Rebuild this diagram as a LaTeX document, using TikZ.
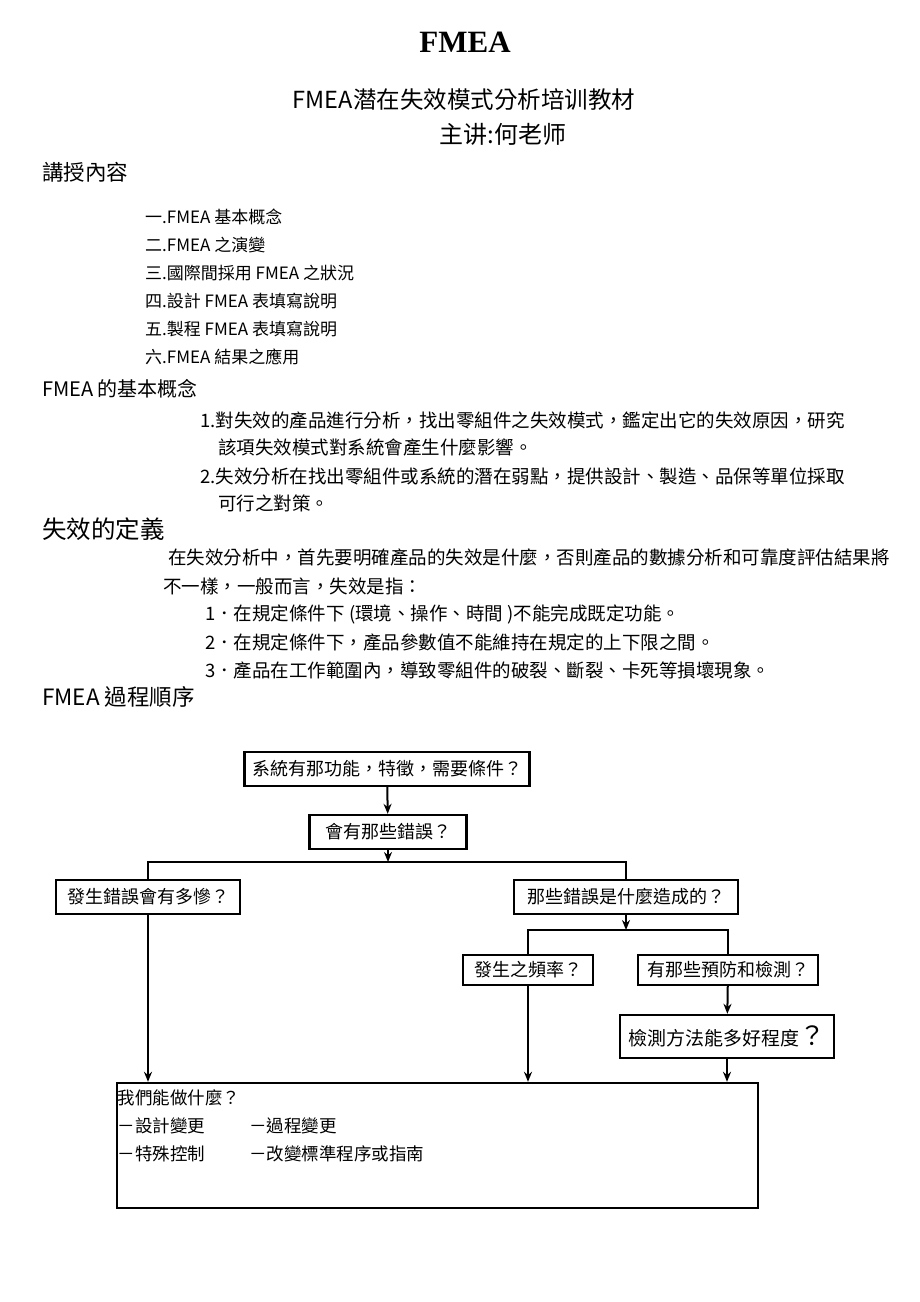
\documentclass[tikz,border=0pt]{standalone}
\usepackage{fontspec}
\setmainfont{Liberation Serif}
\newfontfamily\cjk{Noto Sans CJK TC}
\usepackage{tikz}
\usetikzlibrary{arrows.meta,positioning}
\tikzstyle{heading}=[anchor=west, inner sep=0pt, font=\cjk\fontsize{22}{26}\selectfont]
\tikzstyle{bodytext}=[anchor=west, inner sep=0pt, font=\cjk\fontsize{18.5}{22}\selectfont]
\tikzstyle{listitem}=[anchor=west, inner sep=0pt, font=\cjk\fontsize{17}{20}\selectfont]
\tikzstyle{qbox}=[rectangle, draw, line width=2.4pt, minimum height=34pt, inner sep=2pt, font=\cjk\fontsize{18}{22}\selectfont]
\tikzstyle{link}=[line width=2pt]
\tikzstyle{flowarrow}=[line width=2pt, -{Stealth[length=10pt,width=8pt]}]

\begin{document}
\begin{tikzpicture}[x=1pt,y=-1pt]
\useasboundingbox (0,0) rectangle (920,1302);
%Title
\node[font=\bfseries\fontsize{31}{36}\selectfont] (title) at (465,42){FMEA};
\node[inner sep=0pt, font=\cjk\fontsize{23.5}{28}\selectfont] (subtitle) at (464,100){FMEA潜在失效模式分析培训教材};
\node[inner sep=0pt, font=\cjk\fontsize{24}{28}\selectfont] (teacher) at (503,134){主讲:何老师};

%Contents
\node[heading, font=\cjk\fontsize{21.5}{26}\selectfont] (toc) at (42,172){講授內容};
\node[listitem] (toc1) at (145,217){一.FMEA 基本概念};
\node[listitem] (toc2) at (145,245){二.FMEA 之演變};
\node[listitem] (toc3) at (145,273){三.國際間採用 FMEA 之狀況};
\node[listitem] (toc4) at (145,301){四.設計 FMEA 表填寫說明};
\node[listitem] (toc5) at (145,329){五.製程 FMEA 表填寫說明};
\node[listitem] (toc6) at (145,357){六.FMEA 結果之應用};

%Basic concept
\node[heading, font=\cjk\fontsize{20}{24}\selectfont] (concept) at (42,389){FMEA 的基本概念};
\node[bodytext] (c1a) at (200,420){1.對失效的產品進行分析，找出零組件之失效模式，鑑定出它的失效原因，研究};
\node[bodytext] (c1b) at (218,447){該項失效模式對系統會產生什麼影響。};
\node[bodytext] (c2a) at (200,476){2.失效分析在找出零組件或系統的潛在弱點，提供設計、製造、品保等單位採取};
\node[bodytext] (c2b) at (218,503){可行之對策。};

%Definition
\node[heading, font=\cjk\fontsize{24.5}{28}\selectfont] (define) at (42,529){失效的定義};
\node[bodytext] (d0a) at (168,557){在失效分析中，首先要明確產品的失效是什麼，否則產品的數據分析和可靠度評估結果將};
\node[bodytext] (d0b) at (163,586){不一樣，一般而言，失效是指：};
\node[bodytext] (d1) at (205,614){1．在規定條件下 (環境、操作、時間 )不能完成既定功能。};
\node[bodytext] (d2) at (205,642){2．在規定條件下，產品參數值不能維持在規定的上下限之間。};
\node[bodytext] (d3) at (205,670){3．產品在工作範圍內，導致零組件的破裂、斷裂、卡死等損壞現象。};

%Process order
\node[heading, font=\cjk\fontsize{22.5}{26}\selectfont] (process) at (42,697){FMEA 過程順序};

%Flow chart
\node[qbox, minimum width=285pt] (func) at (387,769){系統有那功能，特徵，需要條件？};
\node[qbox, minimum width=157pt] (err) at (388,832){會有那些錯誤？};
\node[qbox, minimum width=184pt] (sev) at (148,897){發生錯誤會有多慘？};
\node[qbox, minimum width=224pt] (cause) at (626,897){那些錯誤是什麼造成的？};
\node[qbox, minimum width=130pt, minimum height=30pt] (freq) at (528,970){發生之頻率？};
\node[qbox, minimum width=180pt, minimum height=30pt] (prev) at (728,970){有那些預防和檢測？};
\node[qbox, minimum width=214pt, minimum height=43pt, font=\cjk\fontsize{19}{22}\selectfont] (detect) at (727,1036.5){檢測方法能多好程度{\fontsize{26}{26}\selectfont ？}};
\node[qbox, minimum width=641pt, minimum height=125pt] (todo) at (437.5,1145.5){};
\node[anchor=north west, inner sep=0pt, align=left, font=\cjk\fontsize{17.5}{28}\selectfont] (todotext) at ([xshift=1.5pt,yshift=-8pt]todo.north west){我們能做什麼？\\\makebox[132pt][l]{－設計變更}－過程變更\\\makebox[132pt][l]{－特殊控制}－改變標準程序或指南};

%Junctions
\coordinate (j1) at (388,862);
\coordinate (j2) at (626,930);

%Arrows
\draw[flowarrow] (func) -- (err);
\draw[flowarrow] (err) -- (j1);
\draw[link] (sev.north) |- (j1) -| (cause.north);
\draw[flowarrow] (cause) -- (j2);
\draw[link] (freq.north) |- (j2) -| (prev.north);
\draw[flowarrow] (prev) -- (detect);
\draw[flowarrow] (sev.south) -- (sev.south |- todo.north);
\draw[flowarrow] (freq.south) -- (freq.south |- todo.north);
\draw[flowarrow] (detect.south) -- (detect.south |- todo.north);
\end{tikzpicture}
\end{document}
